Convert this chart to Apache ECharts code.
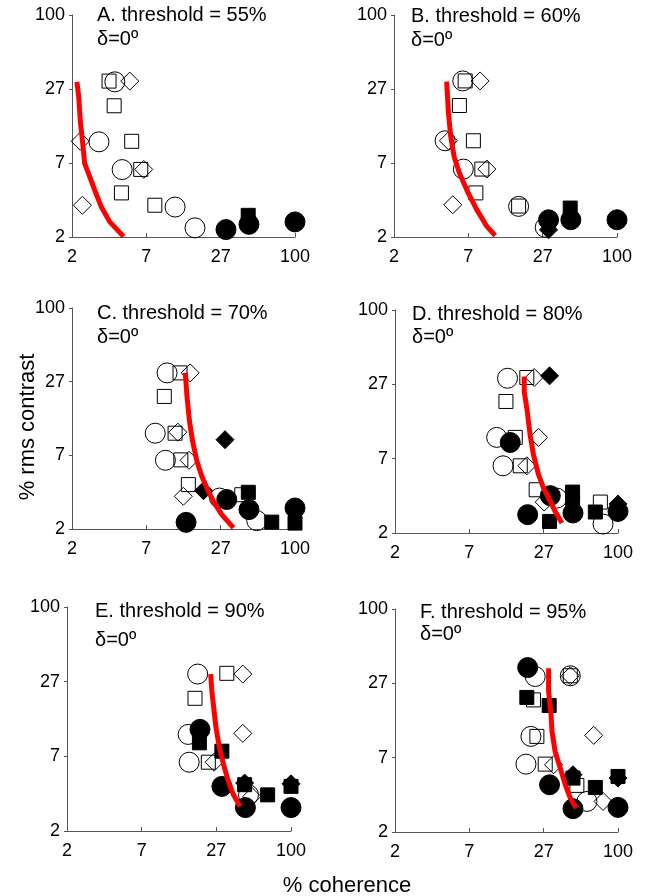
<!DOCTYPE html>
<html>
<head>
<meta charset="utf-8">
<script src="https://cdn.jsdelivr.net/npm/echarts@6/dist/echarts.min.js"></script>
<style>
  html, body { margin: 0; padding: 0; background: #fff; }
  #chart { width: 645px; height: 896px; }
</style>
</head>
<body>
<div id="chart"></div>
<script>
  // panels and tick labels (log axes, 2 .. 100)
  const panels = ['A', 'B', 'C', 'D', 'E', 'F']
  const thresholds = [55, 60, 70, 80, 90, 95]
  const tickLabels = ['2', '7', '27', '100']

  // markers: [panel, % coherence, % rms contrast]
  const openCircle = [
    ['A', 4.24, 30.8], ['A', 3.21, 10.7], ['A', 4.82, 6.56], ['A', 12.2, 3.39], ['A', 17.3, 2.35],
    ['B', 6.68, 31.3], ['B', 4.90, 10.9], ['B', 6.75, 6.62], ['B', 17.8, 3.43], ['B', 28.4, 2.37],
    ['C', 10.6, 31.7], ['C', 8.61, 10.9], ['C', 10.3, 6.75], ['C', 26.6, 3.46], ['C', 51.1, 2.32],
    ['D', 14.4, 30.2], ['D', 11.9, 10.7], ['D', 13.3, 6.50], ['D', 34.2, 3.69], ['D', 76.9, 2.34],
    ['E', 19.6, 31.0], ['E', 16.6, 10.8], ['E', 16.9, 6.65], ['E', 47.6, 3.76],
    ['F', 23.4, 30.6], ['F', 21.7, 10.7], ['F', 19.9, 6.58], ['F', 58.0, 3.42], ['F', 43.3, 31.0]
  ]
  const openSquare = [
    ['A', 3.83, 31.2], ['A', 4.19, 20.2], ['A', 5.70, 10.8], ['A', 6.68, 6.58], ['A', 4.76, 4.35], ['A', 8.55, 3.50],
    ['B', 6.97, 31.3], ['B', 6.30, 20.3], ['B', 8.05, 10.9], ['B', 9.34, 6.62], ['B', 8.41, 4.35], ['B', 17.8, 3.45],
    ['C', 13.3, 31.7], ['C', 10.1, 20.9], ['C', 12.2, 10.9], ['C', 13.5, 6.8], ['C', 15.4, 4.39], ['C', 39.3, 3.67],
    ['D', 20.2, 30.6], ['D', 14.0, 20.1], ['D', 16.5, 10.7], ['D', 18.0, 6.5], ['D', 23.8, 4.27], ['D', 73.4, 3.44],
    ['E', 32.6, 31.4], ['E', 18.7, 20.3], ['E', 23.6, 6.65],
    ['F', 43.3, 31.0], ['F', 22.7, 20.3], ['F', 24.1, 10.7], ['F', 27.9, 6.58], ['F', 48.6, 4.53]
  ]
  const openDiamond = [
    ['A', 5.51, 31.2], ['A', 2.31, 10.8], ['A', 7.04, 6.58], ['A', 2.40, 3.50],
    ['B', 9.05, 31.3], ['B', 5.20, 10.9], ['B', 10.2, 6.62], ['B', 5.61, 3.53],
    ['C', 15.9, 31.7], ['C', 12.8, 11.1], ['C', 15.6, 6.75], ['C', 14.1, 3.57],
    ['D', 23.0, 30.6], ['D', 24.8, 10.7], ['D', 20.2, 6.5], ['D', 27.4, 3.44],
    ['E', 43.1, 31.0], ['E', 43.1, 11.0], ['E', 26.1, 6.65], ['E', 50.5, 3.66],
    ['F', 43.3, 31.0], ['F', 65.3, 10.9], ['F', 32.3, 6.5], ['F', 76.9, 3.42]
  ]
  const filledCircle = [
    ['A', 29.8, 2.28], ['A', 44.6, 2.50], ['A', 100, 2.61],
    ['B', 30.1, 2.71], ['B', 44.5, 2.71], ['B', 100, 2.71],
    ['C', 30.2, 3.37], ['C', 44.6, 2.82], ['C', 14.8, 2.25], ['C', 100, 2.90],
    ['D', 15.1, 9.79], ['D', 30.5, 3.85], ['D', 45.4, 2.84], ['D', 20.5, 2.76], ['D', 100, 2.92],
    ['E', 20.4, 11.8], ['E', 29.9, 4.36], ['E', 45.1, 3.01], ['E', 100, 3.01],
    ['F', 20.5, 35.8], ['F', 30.1, 4.58], ['F', 45.4, 3.01], ['F', 100, 3.08]
  ]
  const filledSquare = [
    ['A', 44.0, 2.93],
    ['B', 44.0, 3.33],
    ['C', 44.1, 3.83], ['C', 66.5, 2.26], ['C', 100, 2.22],
    ['D', 45.1, 4.10], ['D', 45.1, 3.38], ['D', 30.1, 2.45], ['D', 67.2, 2.89],
    ['E', 20.2, 9.33], ['E', 29.9, 8.06], ['E', 44.5, 4.49], ['E', 66.5, 3.76], ['E', 100, 4.36],
    ['F', 20.2, 21.2], ['F', 29.9, 18.4], ['F', 45.4, 5.15], ['F', 67.2, 4.37], ['F', 100, 5.30]
  ]
  const filledDiamond = [
    ['B', 30.1, 2.27],
    ['C', 29.3, 9.72], ['C', 20.1, 3.94],
    ['D', 30.1, 31.5], ['D', 100, 3.33],
    ['E', 44.5, 4.62], ['E', 100, 4.56],
    ['F', 45.4, 5.46], ['F', 100, 5.15]
  ]

  // threshold curves (red), [% coherence, % rms contrast]
  const curveA = [[2.18, 30.8], [2.25, 23.7], [2.31, 15.7], [2.40, 11.0], [2.50, 7.30], [2.70, 5.94], [2.98, 4.56], [3.35, 3.39], [3.88, 2.61], [4.95, 2.02]]
  const curveB = [[5.04, 30.9], [5.20, 17.7], [5.41, 11.8], [5.74, 8.27], [6.30, 6.17], [7.25, 4.47], [8.54, 3.24], [10.2, 2.41], [11.8, 2.05]]
  const curveC = [[14.6, 31.7], [15.0, 21.5], [15.7, 13.5], [16.6, 9.44], [17.9, 6.63], [19.5, 5.08], [21.3, 4.13], [23.9, 3.26], [27.7, 2.58], [34.0, 2.04]]
  const curveD = [[19.3, 31.1], [19.3, 23.9], [20.2, 17.9], [21.4, 11.2], [22.7, 7.89], [24.8, 5.56], [27.1, 4.40], [30.5, 3.48], [33.2, 2.92], [37.4, 2.38]]
  const curveE = [[24.6, 31.0], [25.1, 23.1], [26.1, 16.3], [27.0, 12.1], [28.7, 8.55], [30.8, 6.37], [33.5, 4.76], [36.6, 3.76], [41.2, 3.07]]
  const curveF = [[29.6, 35.3], [29.6, 23.5], [30.8, 16.6], [31.4, 11.7], [33.2, 8.21], [36.3, 6.14], [39.7, 4.58], [43.3, 3.63], [48.1, 3.04]]
  const curves = { A: curveA, B: curveB, C: curveC, D: curveD, E: curveE, F: curveF }

  // layout of each panel (pixels)
  const boxes = [
    { left: 72, top: 15, width: 223, height: 222, tx: 97, ty: 15, dy: 39 },
    { left: 394, top: 15, width: 223, height: 222, tx: 411, ty: 16, dy: 40 },
    { left: 72, top: 308, width: 223, height: 221, tx: 97, ty: 313, dy: 337 },
    { left: 395, top: 310, width: 223, height: 223, tx: 412, ty: 314, dy: 337 },
    { left: 67, top: 607, width: 224, height: 224, tx: 95, ty: 611, dy: 640 },
    { left: 395, top: 609, width: 223, height: 223, tx: 420, ty: 612, dy: 634 }
  ]

  // log10 mapping: 2 -> 0, 100 -> 3, ticks equally spaced
  const LO = Math.log10(2)
  const STEP = (2 - LO) / 3
  const toAxis = v => (Math.log10(v) - LO) / STEP

  const FONT = 'Arial, "Liberation Sans", sans-serif'
  const axisColor = '#555'

  const markerTypes = [
    { rows: openCircle, symbol: 'circle', size: 20, fill: 'rgba(0,0,0,0)' },
    { rows: openSquare, symbol: 'rect', size: 14, fill: 'rgba(0,0,0,0)' },
    { rows: openDiamond, symbol: 'diamond', size: 18, fill: 'rgba(0,0,0,0)' },
    { rows: filledCircle, symbol: 'circle', size: 20, fill: '#000' },
    { rows: filledSquare, symbol: 'rect', size: 14, fill: '#000' },
    { rows: filledDiamond, symbol: 'diamond', size: 18, fill: '#000' }
  ]

  const chart = echarts.init(document.getElementById('chart'))

  const grid = []
  const xAxis = []
  const yAxis = []
  const series = []
  const graphic = []

  panels.forEach((p, i) => {
    const b = boxes[i]
    grid.push({ left: b.left, top: b.top, width: b.width, height: b.height })
    const axisBase = {
      gridIndex: i,
      type: 'value',
      min: 0,
      max: 3,
      interval: 1,
      splitLine: { show: false },
      axisLine: { show: true, lineStyle: { color: axisColor, width: 1 } },
      axisLabel: {
        color: '#000',
        fontSize: 18,
        fontFamily: FONT,
        formatter: v => tickLabels[Math.round(v)]
      }
    }
    xAxis.push(Object.assign({}, axisBase, {
      axisTick: { show: true, inside: true, length: 4, lineStyle: { color: axisColor } },
      axisLabel: Object.assign({}, axisBase.axisLabel, { margin: 11 })
    }))
    yAxis.push(Object.assign({}, axisBase, {
      axisTick: { show: true, inside: false, length: 3, lineStyle: { color: axisColor } },
      axisLabel: Object.assign({}, axisBase.axisLabel, { margin: 7 })
    }))

    markerTypes.forEach(m => {
      series.push({
        type: 'scatter',
        xAxisIndex: i,
        yAxisIndex: i,
        symbol: m.symbol,
        symbolSize: m.size,
        itemStyle: { color: m.fill, borderColor: '#000', borderWidth: 1, opacity: 1 },
        emphasis: { disabled: true },
        data: m.rows.filter(r => r[0] === p).map(r => [toAxis(r[1]), toAxis(r[2])])
      })
    })

    series.push({
      type: 'line',
      xAxisIndex: i,
      yAxisIndex: i,
      showSymbol: false,
      clip: false,
      lineStyle: { color: '#ff0000', width: 5 },
      data: curves[p].map(d => [toAxis(d[0]), toAxis(d[1])])
    })

    graphic.push({
      type: 'text',
      x: b.tx,
      y: b.ty,
      style: {
        text: p + '. threshold = ' + thresholds[i] + '%',
        font: '20px ' + FONT,
        fill: '#000',
        verticalAlign: 'middle'
      }
    })
    graphic.push({
      type: 'text',
      x: b.tx,
      y: b.dy,
      style: {
        text: 'δ=0º',
        font: '20px ' + FONT,
        fill: '#000',
        verticalAlign: 'middle'
      }
    })
  })

  graphic.push({
    type: 'text',
    x: 28,
    y: 427,
    rotation: Math.PI / 2,
    style: {
      text: '% rms contrast',
      font: '22px ' + FONT,
      fill: '#000',
      align: 'center',
      verticalAlign: 'middle'
    }
  })
  graphic.push({
    type: 'text',
    x: 347,
    y: 886,
    style: {
      text: '% coherence',
      font: '22px ' + FONT,
      fill: '#000',
      align: 'center',
      verticalAlign: 'middle'
    }
  })

  chart.setOption({
    animation: false,
    grid: grid,
    xAxis: xAxis,
    yAxis: yAxis,
    series: series,
    graphic: graphic
  })
</script>
</body>
</html>
